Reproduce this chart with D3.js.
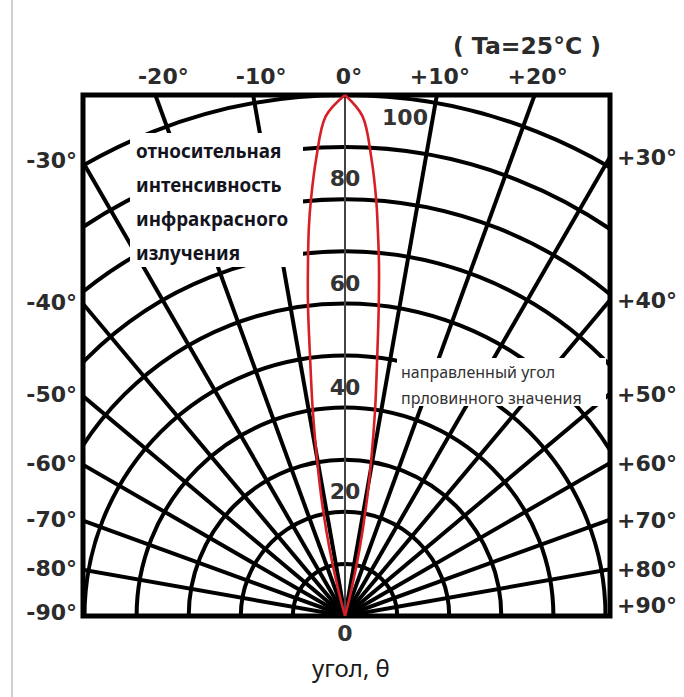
<!DOCTYPE html>
<html>
<head>
<meta charset="utf-8">
<script src="https://cdn.jsdelivr.net/npm/d3@7"></script>
<style>
html,body{margin:0;padding:0;background:#fff;}
svg{display:block;}
</style>
</head>
<body>
<svg id="chart" width="684" height="697"></svg>
<script>
// ---------- data ----------
const ringValues = [10,20,30,40,50,60,70,80,90,100];
const spokeAngles = [-80,-70,-60,-50,-40,-30,-20,-10,10,20,30,40,50,60,70,80];
const topAngleLabels = [-20,-10,0,10,20];
const sideAngleLabels = [30,40,50,60,70,80,90];
const intensityLabels = [100,80,60,40,20,0];
const curveAngles    = [-15.5,-14.5,-13,-11.5,-10.2,-8.9,-7.7,-6.8,-6.0,-5.3,-4.7,-3.6,-2.2,0,2,3.3,4.3,4.8,5.5,6.2,7.1,8.3,9.6,10.8,12.3,13.8,14.8];
const curveIntensity = [0,5,13,22,30,40,50,60,68,75,80,88,96,100,96,88,80,75,68,60,50,40,30,22,13,5,0];
const titleText = "( Ta=25°C )";
const yTitleLines = ["относительная","интенсивность","инфракрасного","излучения"];
const noteLines = ["направленный угол","прловинного значения"];
const xTitle = "угол, θ";

// ---------- layout ----------
const svg = d3.select("#chart");
const cx = 345, cy = 616, fTop = 95, fLeft = 83, fRight = 610;
const R = cy - fTop;
const rScale = d3.scaleLinear().domain([0,100]).range([0,R]);
const rad = d => d*Math.PI/180;

// faint scan border line at far left
svg.append("line").attr("x1",12).attr("x2",12).attr("y1",0).attr("y2",697)
  .attr("stroke","#cfcfcf").attr("stroke-width",2);

svg.append("clipPath").attr("id","box").append("rect")
  .attr("x",fLeft).attr("y",fTop).attr("width",fRight-fLeft).attr("height",cy-fTop);

const g = svg.append("g").attr("clip-path","url(#box)");
const gc = g.append("g").attr("transform",`translate(${cx},${cy})`);

// rings
gc.selectAll("circle.ring").data(ringValues).join("circle")
  .attr("class","ring").attr("r",d=>rScale(d))
  .attr("fill","none").attr("stroke","#000").attr("stroke-width",4);

// spokes
gc.selectAll("line.spoke").data(spokeAngles).join("line")
  .attr("class","spoke")
  .attr("x1",0).attr("y1",0)
  .attr("x2",d=>Math.sin(rad(d))*rScale(200))
  .attr("y2",d=>-Math.cos(rad(d))*rScale(200))
  .attr("stroke","#000").attr("stroke-width",4);

// centre axis (0°)
gc.append("line").attr("x1",0).attr("y1",0).attr("x2",0).attr("y2",-rScale(100))
  .attr("stroke","#444").attr("stroke-width",2);

// frame
svg.append("rect").attr("x",fLeft).attr("y",fTop).attr("width",fRight-fLeft).attr("height",cy-fTop)
  .attr("fill","none").attr("stroke","#000").attr("stroke-width",5);

// white text boxes
svg.append("rect").attr("x",130).attr("y",133).attr("width",173).attr("height",134).attr("fill","#fff");
svg.append("rect").attr("x",397).attr("y",358).attr("width",209).attr("height",48).attr("fill","#fff");

// intensity labels
const lblFont = "'DejaVu Sans', sans-serif";
const gl = svg.append("g").attr("transform",`translate(${cx},${cy})`);
gl.selectAll("text.val").data(intensityLabels).join("text")
  .attr("class","val")
  .attr("x",d=> d===100 ? 60 : 0)
  .attr("y",d=> d===0 ? 25 : (d===100 ? -rScale(d)+30 : -rScale(d+4)+8))
  .attr("text-anchor","middle")
  .attr("font-family",lblFont).attr("font-weight","bold").attr("font-size",22)
  .attr("fill","#333")
  .text(d=>d);

// red curve: two halves joined at the pointed apex
const pts = curveAngles.map((a,i)=>({a, v:curveIntensity[i]}));
const apex = curveIntensity.indexOf(d3.max(curveIntensity));
const line = d3.lineRadial().angle(d=>rad(d.a)).radius(d=>rScale(d.v)).curve(d3.curveCatmullRom.alpha(0.5));
[pts.slice(0,apex+1), pts.slice(apex)].forEach(half=>{
  gl.append("path").attr("d",line(half)).attr("fill","none")
    .attr("stroke","#d61f26").attr("stroke-width",2.6).attr("stroke-linejoin","round");
});

// top angle labels
svg.selectAll("text.topl").data(topAngleLabels).join("text")
  .attr("class","topl")
  .attr("x",d=>cx + (cy-fTop)*Math.tan(rad(d)) + (d<0?8:(d===0?4:3)))
  .attr("y",fTop-11)
  .attr("text-anchor","middle")
  .attr("font-family",lblFont).attr("font-weight","bold").attr("font-size",22)
  .attr("fill","#2b2b2b")
  .text(d=>(d>0?"+":(d<0?"-":""))+Math.abs(d)+"°");

// side labels
function sideY(a, half){ return cy - half/Math.tan(rad(a)); }
svg.selectAll("text.leftl").data(sideAngleLabels).join("text")
  .attr("class","leftl")
  .attr("x",fLeft-6)
  .attr("y",d=> d===90 ? cy+4 : sideY(d, cx-fLeft)+6)
  .attr("text-anchor","end")
  .attr("font-family",lblFont).attr("font-weight","bold").attr("font-size",22)
  .attr("fill","#2b2b2b")
  .text(d=>"-"+d+"°");
svg.selectAll("text.rightl").data(sideAngleLabels).join("text")
  .attr("class","rightl")
  .attr("x",fRight+7)
  .attr("y",d=> d===90 ? cy-3 : sideY(d, fRight-cx)+8)
  .attr("text-anchor","start")
  .attr("font-family",lblFont).attr("font-weight","bold").attr("font-size",22)
  .attr("fill","#2b2b2b")
  .text(d=>"+"+d+"°");

// title
svg.append("text").attr("x",527).attr("y",54).attr("text-anchor","middle")
  .attr("font-family",lblFont).attr("font-weight","bold").attr("font-size",23.5)
  .attr("fill","#2b2b2b").text(titleText);

// y title block
svg.selectAll("text.yt").data(yTitleLines).join("text")
  .attr("class","yt")
  .attr("x",136).attr("y",(d,i)=>158+i*34)
  .attr("font-family","'Noto Sans', 'Open Sans', sans-serif").attr("font-weight","bold").attr("font-size",18.8)
  .attr("fill","#14141e").text(d=>d);

// note block
svg.selectAll("text.note").data(noteLines).join("text")
  .attr("class","note")
  .attr("x",401).attr("y",(d,i)=>378+i*26)
  .attr("font-family","'Noto Sans', 'Open Sans', sans-serif").attr("font-size",16)
  .attr("fill","#333").text(d=>d);

// x title
svg.append("text").attr("x",351).attr("y",677).attr("text-anchor","middle")
  .attr("font-family","'Noto Sans', 'Open Sans', sans-serif").attr("font-size",24)
  .attr("fill","#1a1a1a").text(xTitle);
</script>
</body>
</html>
